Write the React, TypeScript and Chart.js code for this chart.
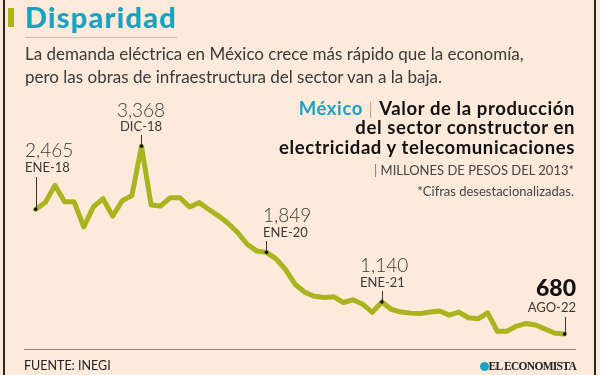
import React, { useEffect, useRef } from "react";
import { Chart, registerables } from "chart.js";

Chart.register(...registerables);

const MONTHS = ["ENE", "FEB", "MAR", "ABR", "MAY", "JUN", "JUL", "AGO", "SEP", "OCT", "NOV", "DIC"];
const YEARS = ["18", "19", "20", "21", "22"];

const values2018 = [2465, 2562, 2807, 2572, 2572, 2213, 2499, 2616, 2367, 2587, 2660, 3368];
const values2019 = [2527, 2513, 2630, 2630, 2498, 2560, 2462, 2371, 2266, 2133, 1965, 1867];
const values2020 = [1849, 1755, 1600, 1389, 1276, 1220, 1202, 1213, 1132, 1171, 1108, 992];
const values2021 = [1140, 1032, 995, 980, 973, 995, 1010, 951, 995, 914, 899, 983];
const values2022 = [721, 721, 795, 832, 810, 751, 692, 680];

const values = [...values2018, ...values2019, ...values2020, ...values2021, ...values2022];
const labels: string[] = [];
YEARS.forEach((y) => MONTHS.forEach((m) => labels.push(m + "-" + y)));
labels.length = values.length;

const highlightLabels = ["ENE-18", "DIC-18", "ENE-20", "ENE-21", "AGO-22"];
const highlightValues = ["2,465", "3,368", "1,849", "1,140", "680"];

const TEAL = "#1ba2c0";
const OLIVE = "#a9b41e";
const BG = "#fdeadb";
const TEXT = "#3a3a3a";

// connector tops (layout)
const connectorTops: Record<string, number> = {
  "ENE-18": 177,
  "DIC-18": 135,
  "ENE-20": 241,
  "ENE-21": 291,
  "AGO-22": 317,
};

type TProps = {
  x: number;
  baseline: number;
  size: number;
  weight?: number;
  color?: string;
  align?: "left" | "right" | "center";
  family?: string;
  spacing?: number;
  children: React.ReactNode;
};

function T({ x, baseline, size, weight = 400, color = TEXT, align = "left", family = "Lato, 'Open Sans', sans-serif", spacing = 0, children }: TProps) {
  const top = baseline - 0.887 * size;
  const style: React.CSSProperties = {
    position: "absolute",
    top,
    fontSize: size,
    lineHeight: 1,
    fontWeight: weight,
    color,
    fontFamily: family,
    whiteSpace: "nowrap",
    letterSpacing: spacing,
  };
  if (align === "left") style.left = x;
  else if (align === "right") style.right = 600 - x;
  else {
    style.left = x - 200;
    style.width = 400;
    style.textAlign = "center";
  }
  return <div style={style}>{children}</div>;
}

export default function App() {
  const ref = useRef<HTMLCanvasElement | null>(null);

  useEffect(() => {
    if (!ref.current) return;
    const connectors = {
      id: "connectors",
      afterDatasetsDraw(chart: any) {
        const ctx = chart.ctx;
        const xs = chart.scales.x;
        const ys = chart.scales.y;
        ctx.save();
        highlightLabels.forEach((lab) => {
          const i = labels.indexOf(lab);
          const px = xs.getPixelForValue(i);
          const py = ys.getPixelForValue(values[i]);
          ctx.strokeStyle = "#333";
          ctx.lineWidth = 1;
          ctx.beginPath();
          ctx.moveTo(Math.round(px) + 0.5, connectorTops[lab]);
          ctx.lineTo(Math.round(px) + 0.5, py);
          ctx.stroke();
          ctx.fillStyle = "#111";
          ctx.beginPath();
          ctx.arc(px, py, 1.8, 0, Math.PI * 2);
          ctx.fill();
        });
        ctx.restore();
      },
    };
    const chart = new Chart(ref.current, {
      type: "line",
      data: {
        labels,
        datasets: [
          {
            data: values,
            borderColor: OLIVE,
            borderWidth: 5,
            pointRadius: 0,
            tension: 0,
            fill: false,
            clip: false,
            borderJoinStyle: "round",
            borderCapStyle: "round",
          } as any,
        ],
      },
      options: {
        animation: false,
        responsive: false,
        devicePixelRatio: 1,
        layout: { padding: { left: 35.7, right: 35.4, top: 136.9, bottom: 35.3 } },
        plugins: { legend: { display: false }, tooltip: { enabled: false } },
        scales: {
          x: { type: "category", offset: false, display: false },
          y: { type: "linear", min: 600, max: 3500, display: false },
        },
      },
      plugins: [connectors],
    });
    return () => chart.destroy();
  }, []);

  return (
    <div style={{ position: "absolute", left: 0, top: 0, width: 600, height: 375, background: BG, overflow: "hidden" }}>
      <canvas ref={ref} width={600} height={375} style={{ position: "absolute", left: 0, top: 0 }} />
      {/* borders */}
      <div style={{ position: "absolute", left: 3, top: 0, width: 2, height: 375, background: "#2a2522" }} />
      <div style={{ position: "absolute", left: 594, top: 0, width: 2, height: 375, background: "#2a2522" }} />
      {/* accent bar */}
      <div style={{ position: "absolute", left: 8, top: 8, width: 6, height: 19, background: OLIVE }} />
      <T x={25} baseline={28} size={29} weight={900} color={TEAL} spacing={1.2}>Disparidad</T>
      <div style={{ position: "absolute", left: 25, top: 37, width: 152, height: 1, background: "#c9beb4" }} />
      <T x={25} baseline={60} size={17} weight={400}>La demanda eléctrica en México crece más rápido que la economía,</T>
      <T x={25} baseline={83} size={17} weight={400}>pero las obras de infraestructura del sector van a la baja.</T>

      <T x={575} baseline={115} size={18.5} weight={700} color="#111" align="right" spacing={0.6}>
        <span style={{ color: TEAL }}>México</span>
        <span style={{ color: "#8a8a8a", fontWeight: 300 }}> | </span>Valor de la producción
      </T>
      <T x={575} baseline={134.5} size={18.5} weight={700} color="#111" align="right" spacing={0.6}>del sector constructor en</T>
      <T x={575} baseline={154} size={18.5} weight={700} color="#111" align="right" spacing={0.6}>electricidad y telecomunicaciones</T>
      <T x={574} baseline={176} size={13} weight={400} color="#444" align="right">
        <span style={{ color: "#777" }}>| </span>MILLONES DE PESOS DEL 2013*
      </T>
      <T x={574} baseline={197} size={13} weight={400} color="#444" align="right">*Cifras desestacionalizadas.</T>

      {/* annotations */}
      <T x={25} baseline={157} size={19} weight={300}>{highlightValues[0]}</T>
      <T x={25} baseline={173} size={13} weight={400}>{highlightLabels[0]}</T>
      <T x={141} baseline={116.5} size={19} weight={300} align="center">{highlightValues[1]}</T>
      <T x={141} baseline={132} size={13} weight={400} align="center">{highlightLabels[1]}</T>
      <T x={263} baseline={221.5} size={19} weight={300}>{highlightValues[2]}</T>
      <T x={263} baseline={238} size={13} weight={400}>{highlightLabels[2]}</T>
      <T x={360} baseline={272} size={19} weight={300}>{highlightValues[3]}</T>
      <T x={360} baseline={288} size={13} weight={400}>{highlightLabels[3]}</T>
      <T x={576} baseline={296.5} size={23} weight={900} color="#111" align="right">{highlightValues[4]}</T>
      <T x={576} baseline={313} size={13} weight={400} align="right">{highlightLabels[4]}</T>

      {/* footer */}
      <div style={{ position: "absolute", left: 24, top: 348.5, width: 552, height: 1.5, background: "#8f857b" }} />
      <T x={24} baseline={371.5} size={12.5} weight={400} color="#222">FUENTE: INEGI</T>
      <div style={{ position: "absolute", left: 480, top: 362, width: 9, height: 9, borderRadius: "50%", background: TEAL }} />
      <T x={576} baseline={371} size={11.5} weight={700} color="#222" align="right" family="'Liberation Serif', 'DejaVu Serif', serif" spacing={-0.7}>EL ECONOMISTA</T>
    </div>
  );
}
